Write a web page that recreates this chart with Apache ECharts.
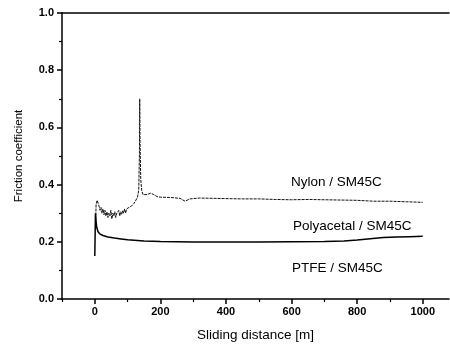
<!DOCTYPE html>
<html><head><meta charset="utf-8">
<script src="https://cdn.jsdelivr.net/npm/echarts@6/dist/echarts.min.js"></script>
<style>html,body{margin:0;padding:0;background:#fff}#c{width:450px;height:347px}</style>
</head><body><div id="c"></div>
<script>
// Upper curve (dotted, noisy start with spike)
const distanceUpper = [2,4,7,10,13,16,19,22,25,28,31,34,37,40,43,46,49,52,55,58,61,64,67,70,73,76,79,82,85,88,91,94,97,100,104,108,112,116,120,125,130,134,136,137,138,140,143,147,152,160,170,180,190,200,230,260,275,290,320,360,400,450,500,550,600,650,700,750,800,850,900,950,1000];
const frictionUpper = [0.25,0.33,0.345,0.335,0.325,0.31,0.32,0.30,0.315,0.295,0.31,0.29,0.305,0.285,0.30,0.29,0.31,0.28,0.30,0.29,0.305,0.285,0.30,0.295,0.31,0.29,0.305,0.295,0.31,0.30,0.315,0.30,0.315,0.31,0.32,0.315,0.325,0.32,0.335,0.34,0.355,0.38,0.50,0.70,0.55,0.42,0.38,0.365,0.36,0.365,0.37,0.365,0.358,0.356,0.355,0.352,0.342,0.35,0.353,0.352,0.351,0.35,0.35,0.348,0.347,0.348,0.347,0.346,0.345,0.342,0.342,0.34,0.338];
// Lower curve (solid)
const distanceLower = [0,2,4,6,10,15,25,40,60,80,100,150,200,300,400,500,600,700,760,800,840,880,920,960,1000];
const frictionLower = [0.15,0.30,0.27,0.25,0.235,0.228,0.222,0.217,0.213,0.21,0.207,0.203,0.201,0.199,0.199,0.199,0.2,0.201,0.203,0.206,0.211,0.215,0.217,0.218,0.219];
const majorX = [0,200,400,600,800,1000];
const minorX = [-100,100,300,500,700,900];
const labels = ["Nylon / SM45C","Polyacetal / SM45C","PTFE / SM45C"];

const font = "Liberation Sans, Arial, sans-serif";
const zip = (a,b)=>a.map((v,i)=>[v,b[i]]);
const chart = echarts.init(document.getElementById('c'), null, {renderer:'canvas'});
const axisLine = {show:true, onZero:false, lineStyle:{color:'#000', width:1.5}};
chart.setOption({
  animation:false,
  backgroundColor:'#fff',
  grid:{left:62, top:13, right:1, bottom:44, containLabel:false},
  xAxis:[
    {type:'value', min:-100, max:1080, position:'bottom',
     axisLine:axisLine, splitLine:{show:false},
     axisTick:{show:true, inside:false, length:5, customValues:majorX, lineStyle:{color:'#000',width:1.5}},
     axisLabel:{show:true, customValues:majorX, color:'#000', fontFamily:font, fontSize:11, fontWeight:'bold', margin:7, formatter:v=>String(v)},
     name:'Sliding distance [m]', nameLocation:'middle', nameGap:29,
     nameTextStyle:{color:'#000', fontFamily:font, fontSize:13.5}},
    {type:'value', min:-100, max:1080, position:'bottom', offset:0,
     axisLine:{show:false, onZero:false}, splitLine:{show:false},
     axisTick:{show:true, inside:false, length:3, customValues:minorX, lineStyle:{color:'#000',width:1.2}},
     axisLabel:{show:false}},
    {type:'value', min:-100, max:1080, position:'top',
     axisLine:axisLine, splitLine:{show:false}, axisTick:{show:false}, axisLabel:{show:false}}
  ],
  yAxis:{type:'value', min:0, max:1, interval:0.2,
    axisLine:axisLine, splitLine:{show:false},
    axisTick:{show:true, inside:false, length:5, lineStyle:{color:'#000',width:1.5}},
    minorTick:{show:true, splitNumber:2, length:3, lineStyle:{color:'#000',width:1.2}},
    axisLabel:{color:'#000', fontFamily:font, fontSize:11, fontWeight:'bold', margin:8,
      formatter:v=>v.toFixed(1)},
    name:'Friction coefficient', nameLocation:'middle', nameGap:37,
    nameTextStyle:{color:'#000', fontFamily:font, fontSize:11.5}},
  series:[
    {type:'line', xAxisIndex:0, data:zip(distanceUpper,frictionUpper), showSymbol:false, symbol:'none',
     lineStyle:{color:'#111', width:1, type:[3,1]}},
    {type:'line', xAxisIndex:0, data:zip(distanceLower,frictionLower), showSymbol:false, symbol:'none',
     lineStyle:{color:'#000', width:1.5}}
  ],
  graphic:[
    {type:'text', left:291, top:175, style:{text:labels[0], fill:'#000', font:'13.5px '+font}},
    {type:'text', left:293, top:219, style:{text:labels[1], fill:'#000', font:'13.5px '+font}},
    {type:'text', left:292, top:261, style:{text:labels[2], fill:'#000', font:'13.5px '+font}}
  ]
});
</script></body></html>
